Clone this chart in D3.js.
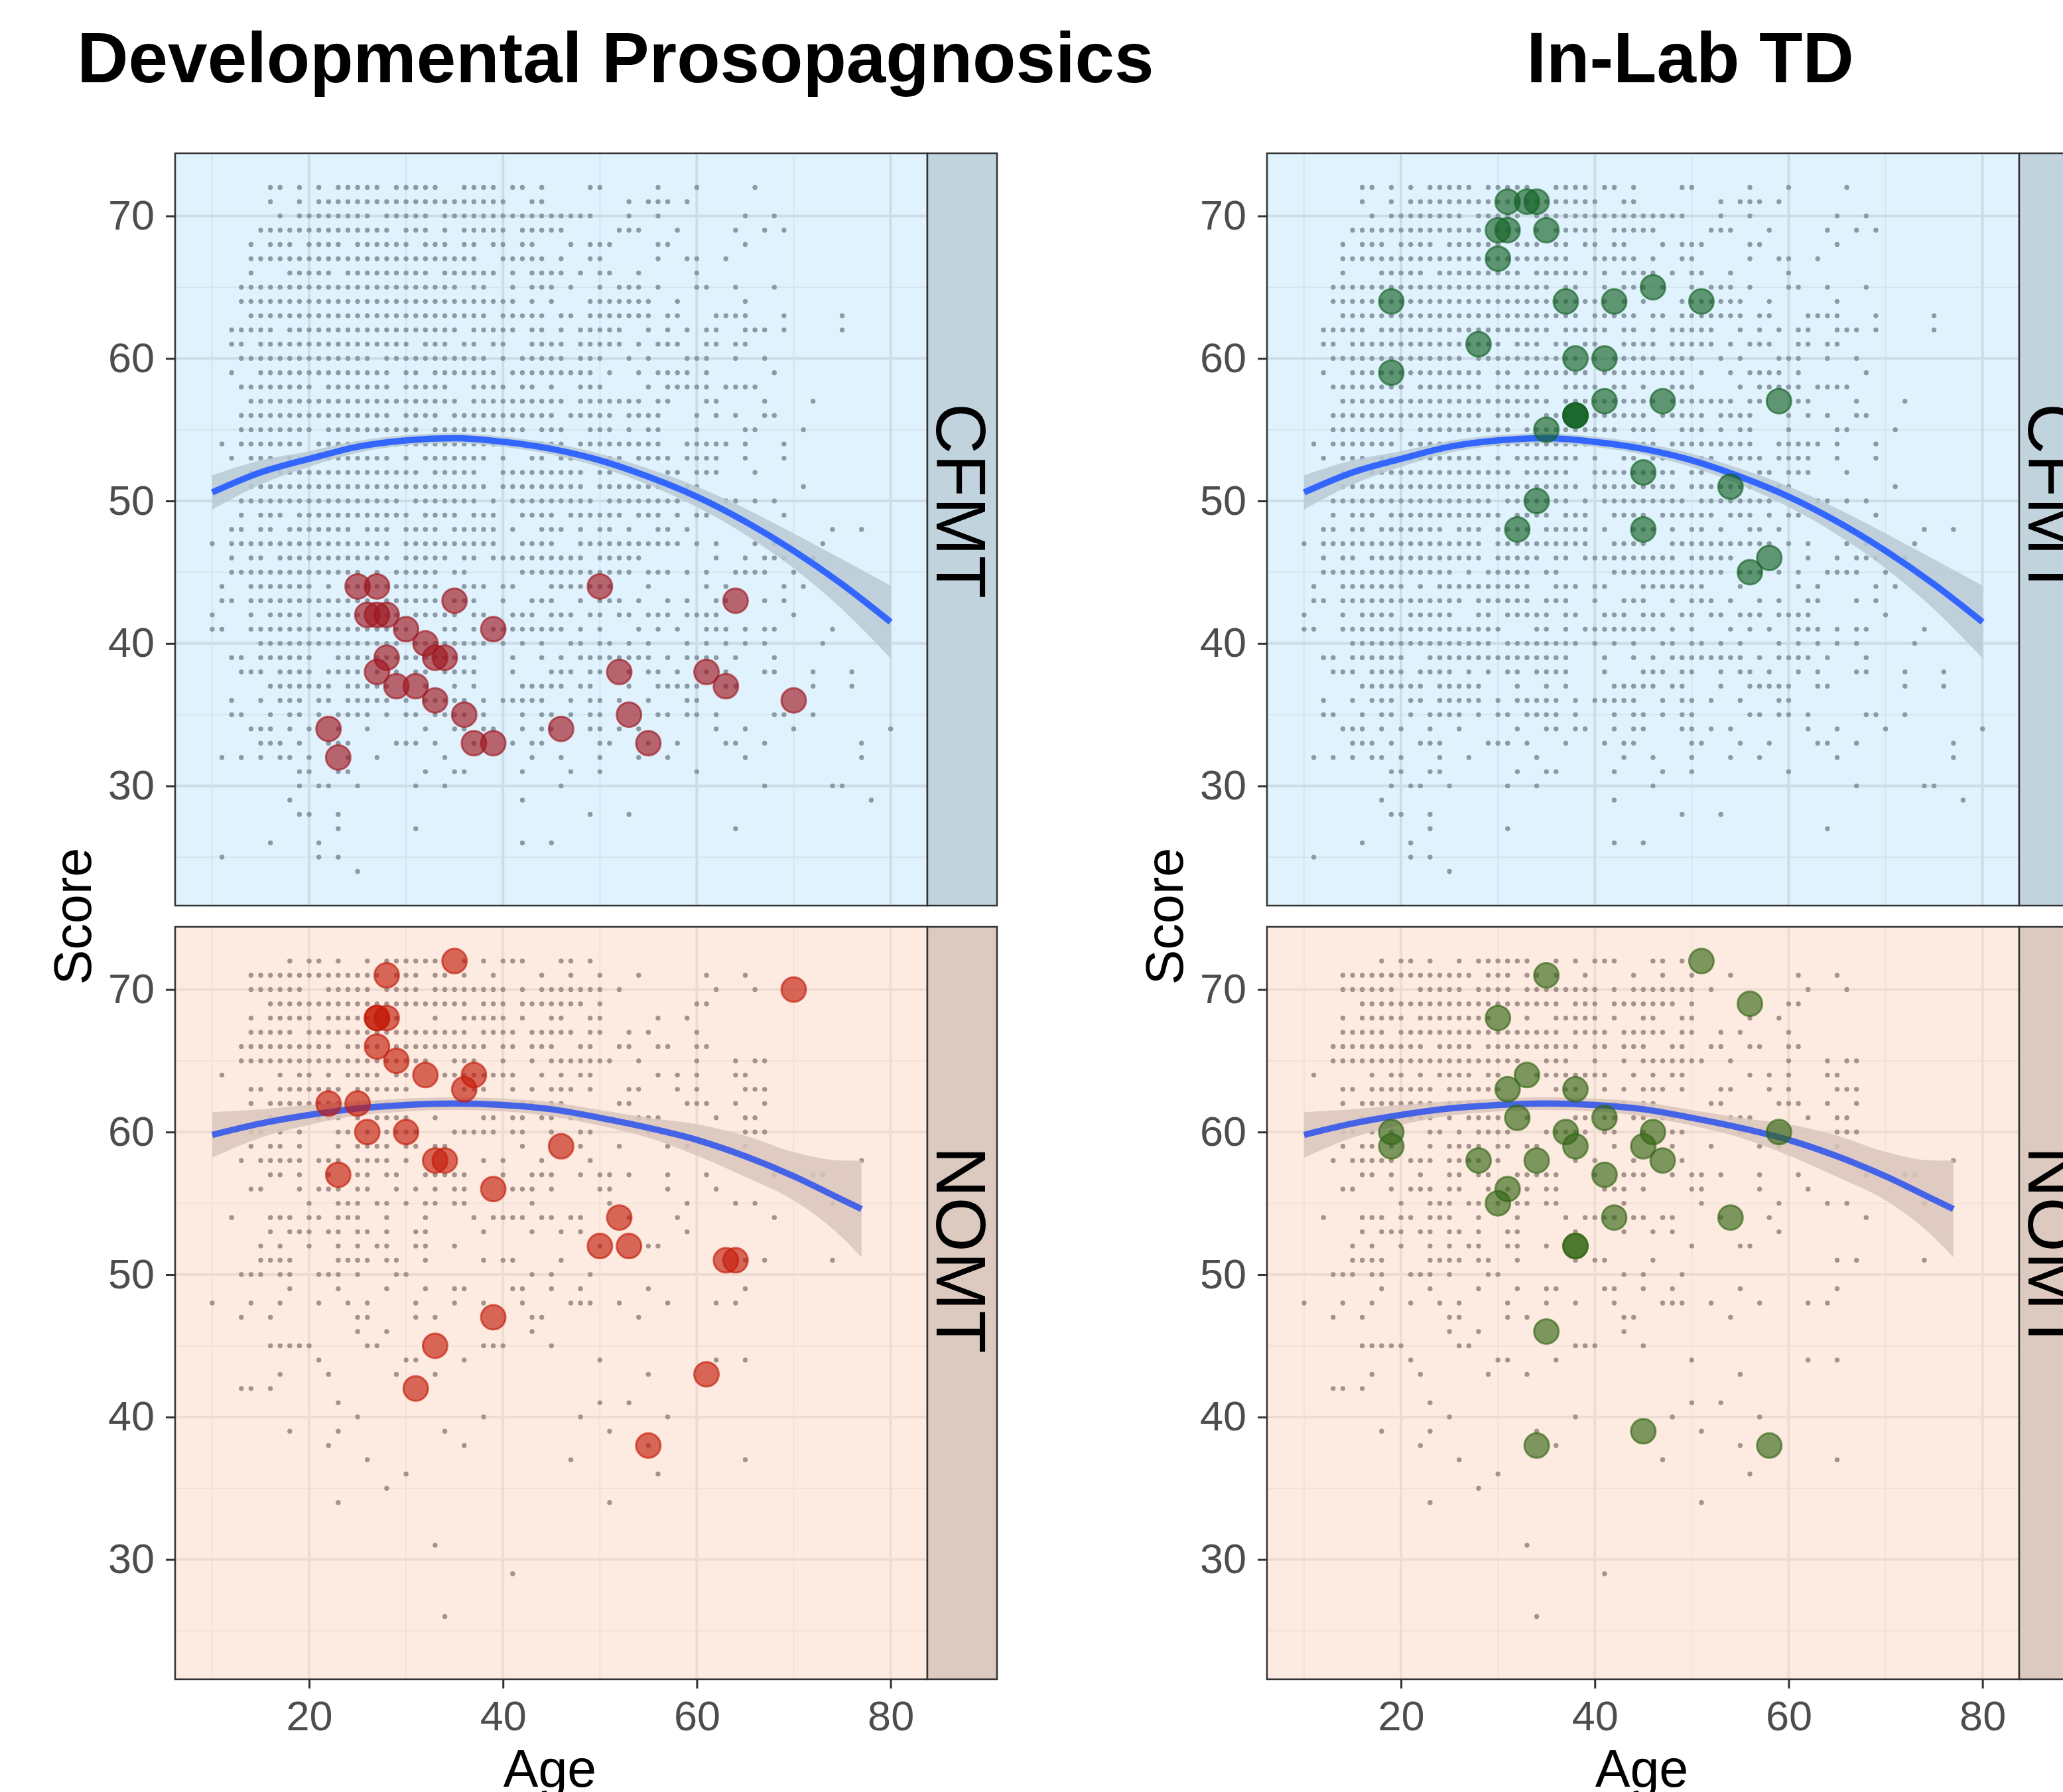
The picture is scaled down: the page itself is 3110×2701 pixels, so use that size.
<!DOCTYPE html>
<html lang="en">
<head>
<meta charset="UTF-8">
<title>Score by age, CFMT and NOMT</title>
<script src="https://cdn.jsdelivr.net/npm/d3@7"></script>
<style>
  body { margin: 0; background: #ffffff; }
  svg { display: block; font-family: "Liberation Sans", Arial, sans-serif; }
</style>
</head>
<body>
<svg id="chart" width="3110" height="2701"></svg>
<script>
// ---------- data ----------
// normative sample: [score, ages with a dot in that score row]
const cfmtNorm = [
  [72, "16 17 19 21 23 24 25 26 27 29 30 31 32 33 36 37 38 39 41 42 44 49 50 56 60 66"],
  [71, "16 19 21 22 23 24 25 26 27 28 29 30 31 32 33 34 35 36 37 38 39 40 43 44 53 55 56 57 59"],
  [70, "17 19 20 21 22 23 24 25 26 28 29 30 31 32 34 35 36 37 38 39 40 41 42 43 44 45 46 47 48 49 53 56 65 68"],
  [69, "15 16 17 18 19 20 21 22 23 24 25 26 27 28 30 31 32 34 36 37 38 39 40 42 43 44 45 46 52 53 54 58 64 67 69"],
  [68, "14 16 17 18 20 21 22 23 25 26 27 28 29 30 32 33 34 36 37 39 40 42 43 47 49 50 51 56 57 65"],
  [67, "14 15 16 17 18 19 20 21 22 23 24 25 26 27 28 29 30 31 32 33 34 35 36 37 40 41 42 43 44 46 49 50 56 59 60 63"],
  [66, "14 18 19 20 21 22 24 25 26 27 28 29 30 31 32 34 35 36 37 38 39 41 43 44 45 46 48 50 51 54 60"],
  [65, "13 14 15 16 17 18 19 20 21 22 23 24 25 26 27 28 29 30 31 32 33 34 35 37 38 41 43 44 45 47 50 52 53 54 56 60 61 64 68"],
  [64, "13 14 15 16 17 18 19 20 21 22 23 24 25 26 27 28 29 30 31 32 33 34 35 36 37 38 39 40 41 43 45 49 50 51 52 53 54 55 58 65"],
  [63, "14 15 16 17 18 19 20 21 22 23 24 25 26 27 28 29 30 31 32 33 34 35 36 37 38 40 41 42 43 44 46 47 49 50 51 52 53 54 55 57 58 62 63 64 65 69 75"],
  [62, "12 13 14 15 16 18 19 20 21 22 23 24 25 26 27 28 29 30 31 32 33 34 35 37 38 39 40 41 43 44 46 48 49 50 51 52 55 57 59 61 62 65 66 67 69 75"],
  [61, "12 13 15 16 17 18 19 20 21 22 23 24 25 26 27 28 29 30 32 33 34 36 37 39 40 43 44 45 46 48 49 50 51 52 54 56 57 58 61 62 64 65"],
  [60, "13 14 15 16 17 18 19 20 21 22 23 24 25 26 28 29 30 31 32 33 34 35 36 37 38 40 42 43 44 45 46 48 49 50 53 55 59 60 61 64 67"],
  [59, "12 15 16 17 18 19 20 21 22 23 24 25 26 27 28 30 31 33 34 35 36 37 38 39 41 42 43 44 45 46 47 48 49 51 54 56 57 58 59 61 68"],
  [58, "13 14 15 16 17 18 19 20 22 23 24 25 26 27 28 30 31 32 33 34 37 38 39 40 42 43 45 48 49 50 55 57 58 59 60 61 63 64 65 66"],
  [57, "14 15 16 17 18 19 20 21 22 23 24 25 26 27 28 29 30 31 32 33 34 35 37 38 39 40 41 42 43 44 45 46 48 49 50 51 52 53 54 56 57 61 62 67 72"],
  [56, "13 14 15 16 17 18 19 20 21 22 23 24 25 26 27 28 30 31 32 33 35 36 37 38 39 40 41 42 43 44 45 47 48 49 50 51 53 54 55 56 60 62 64 67 68"],
  [55, "13 14 15 16 17 18 19 20 22 23 24 25 26 27 28 29 30 31 33 34 35 36 37 38 39 40 41 42 44 45 46 49 50 51 53 55 56 60 65 66 71"],
  [54, "11 13 14 15 16 17 18 19 21 22 23 24 25 26 27 28 29 30 31 32 33 34 35 36 37 38 39 40 41 42 44 45 46 48 49 50 51 52 53 54 55 56 59 60 61 62 63 65 69"],
  [53, "12 14 15 16 18 19 20 21 22 23 24 25 26 27 28 30 32 33 34 35 36 37 38 40 43 44 46 47 51 52 54 55 56 57 59 60 61 62 65 69"],
  [52, "14 15 17 18 19 20 21 22 23 24 25 26 27 28 29 30 31 33 34 35 36 37 40 41 42 43 44 45 46 47 48 50 51 57 58 60 61 62 66"],
  [51, "14 15 16 17 18 19 20 21 22 23 24 25 26 27 28 29 30 31 32 33 34 35 36 37 38 40 41 42 43 44 45 46 47 48 50 51 52 53 54 55 56 59 60 71"],
  [50, "13 14 15 16 17 18 19 20 21 22 23 24 25 26 27 28 29 31 32 33 34 35 36 37 39 41 42 43 44 45 46 47 48 49 51 52 53 54 55 56 57 58 63 64 66 68"],
  [49, "13 15 16 17 19 20 21 22 23 24 25 26 27 28 29 30 32 33 34 35 37 38 39 42 43 44 45 47 48 49 50 51 52 54 55 56 58 60 61 69"],
  [48, "12 13 15 16 18 19 20 21 22 23 24 26 27 28 30 31 32 33 35 36 37 38 39 41 44 45 46 48 50 51 53 56 57 59 74 77"],
  [47, "10 12 13 14 15 16 17 18 19 20 21 22 23 24 25 26 27 28 30 31 32 33 34 35 36 37 38 39 42 43 44 45 48 49 50 51 52 53 54 55 56 57 58 60 62 66 68 73"],
  [46, "12 14 15 17 18 19 20 21 22 23 24 25 26 27 28 30 31 32 33 34 36 37 39 40 41 42 43 44 45 46 47 48 50 51 52 53 54 62 65 67 68 69 72"],
  [45, "12 13 14 15 16 17 18 19 20 21 22 23 24 25 27 29 30 31 32 33 35 36 42 43 44 45 46 47 48 49 50 51 52 53 55 56 57 59 61 64 65 66 67 70"],
  [44, "11 14 15 16 17 18 19 20 22 24 25 26 27 28 29 30 31 32 33 36 37 38 40 41 45 46 47 48 49 50 51 55 61 63 69 71"],
  [43, "11 12 14 15 16 17 18 19 20 21 22 23 24 25 26 28 29 30 31 32 33 35 36 37 40 43 44 45 48 50 51 52 54 57 59 62 63 67 69"],
  [42, "10 14 16 17 18 19 21 22 23 24 25 28 29 31 32 33 34 35 37 38 41 42 43 45 46 47 49 50 52 53 55 56 57 59 60 61 62 70"],
  [41, "10 11 14 15 16 17 18 19 20 21 22 23 24 25 26 27 28 29 30 34 35 37 39 40 41 42 43 44 45 46 48 50 54 56 58 61 62 63 65 67 68 74"],
  [40, "15 16 17 18 19 20 21 22 23 24 25 26 27 28 29 31 32 33 34 35 36 37 38 40 42 44 47 48 50 51 53 55 59 61 63 65 67 73"],
  [39, "12 13 15 16 17 18 19 20 23 24 25 26 27 28 29 30 31 32 33 34 35 36 37 41 44 46 48 49 50 51 52 53 54 55 57 59 60 61 62 64 68"],
  [38, "13 14 15 17 18 19 20 22 23 24 25 27 29 31 32 34 35 36 37 41 45 46 47 49 50 53 55 56 58 61 63 67 68 72 76"],
  [37, "16 17 18 19 20 21 22 24 25 26 27 28 32 35 37 42 43 44 45 46 48 49 53 56 57 58 59 60 63 64 72 76"],
  [36, "12 15 17 18 19 21 22 24 25 26 27 28 30 32 33 34 35 36 38 40 41 42 43 44 47 49 50 52 55 59 60"],
  [35, "12 13 16 18 19 21 23 24 25 26 28 30 31 33 34 35 36 38 42 44 45 47 49 50 56 57 59 60 62 68 69 72"],
  [34, "14 15 16 18 20 23 26 32 35 36 38 39 42 44 45 49 50 52 54 62 65 70 80"],
  [33, "15 16 17 19 22 23 24 29 30 31 33 37 41 43 44 50 51 55 58 63 64 67 77"],
  [32, "11 13 15 17 18 20 24 27 34 43 46 50 54 57 65 77"],
  [31, "19 20 23 24 32 35 36 42 47 50 60"],
  [30, "19 21 22 25 31 34 46 67 74 75"],
  [29, "18 42 78"],
  [28, "19 20 23 49 53"],
  [27, "23 31 64"],
  [26, "16 21 42 45"],
  [25, "11 21 23"],
  [24, "25"]
];

const nomtNorm = [
  [72, "18 20 21 23 26 28 29 30 31 32 33 36 38 40 41 42 46 47 49"],
  [71, "14 15 16 17 18 19 20 21 22 23 24 25 26 27 29 30 31 33 34 36 39 44 47 50 54 61 65"],
  [70, "14 15 16 17 18 19 22 23 24 25 26 28 29 30 31 33 34 35 36 37 38 39 40 42 44 45 46 47 48 49 50 52 62 66"],
  [69, "16 17 18 19 20 21 22 23 24 25 26 27 28 29 30 31 32 33 34 35 36 38 39 40 42 43 44 45 46 47 48 50 60 61"],
  [68, "14 16 17 18 19 20 22 23 24 25 26 27 28 29 33 36 37 38 39 40 42 45 46 49 50 56 59"],
  [67, "14 15 16 17 18 20 21 22 23 24 25 26 27 28 29 30 31 32 33 34 35 36 38 39 40 41 43 44 45 46 47 49 50 53 55 60"],
  [66, "13 14 15 16 17 18 19 20 21 22 24 25 26 27 29 30 31 32 33 34 35 36 37 38 40 41 43 44 45 48 49 52 53 56 57 60 61"],
  [65, "13 14 15 16 17 18 19 20 21 22 23 24 25 26 27 28 29 30 31 32 35 36 37 40 43 45 46 47 48 49 50 51 54 60 64 66 67"],
  [64, "11 17 19 20 22 24 25 26 27 29 30 34 35 36 37 38 39 40 41 44 46 48 49 56 58 60 64 65"],
  [63, "14 15 17 18 19 20 21 22 23 25 26 27 28 29 30 36 37 38 41 43 45 46 47 49 53 54 58 60 65 66 67"],
  [62, "14 16 17 18 19 20 21 22 23 25 26 27 28 30 32 34 36 37 39 40 42 43 45 46 52 53 59 60 61 64 67"],
  [61, "16 21 22 23 25 27 28 29 30 33 38 39 41 42 44 45 47 48 54 55 56 62 65 66"],
  [60, "14 15 17 19 23 24 26 28 29 30 31 35 36 37 38 39 41 42 45 48 49 55 65 66 67"],
  [59, "14 16 17 19 23 25 26 27 28 30 31 33 34 42 48 52 57 59 65"],
  [58, "13 15 16 17 18 19 21 22 23 25 26 27 28 30 38 40 44 49 77"],
  [57, "16 17 19 22 25 26 28 29 32 33 34 35 36 40 43 44 45 48 50 51 53 57 61 68 72 73"],
  [56, "14 15 19 21 22 23 25 26 29 31 33 35 36 41 42 43 45 50 51 57 62"],
  [55, "20 23 24 25 27 28 30 32 33 35 36 43 51 59 64 66 74"],
  [54, "12 16 17 18 20 21 23 24 25 28 32 37 39 40 41 42 44 45 47 48 53 58 68"],
  [53, "16 18 19 20 22 23 25 26 28 31 32 38 43 46 48 59"],
  [52, "15 17 20 23 25 27 28 31 32 35 50 55 56"],
  [51, "15 16 17 18 23 24 25 26 28 29 32 38 40 41 46 65 67 74"],
  [50, "13 14 15 17 18 21 22 23 25 29 30 43 45 49"],
  [49, "18 23 28 32 35 36 41 42 45 48 55 65"],
  [48, "10 14 17 21 24 26 31 35 38 42 47 48 49 52 57 62 64"],
  [47, "13 16 25 26 31 33 43 44 54"],
  [46, "25 28 43"],
  [45, "16 17 18 19 20 26 27 38 39 40 45"],
  [44, "21 30 31 36 50 62 65"],
  [43, "17 22 29 33 55"],
  [42, "13 14 16"],
  [41, "23 50 53"],
  [40, "25 38 48 57"],
  [39, "18 23 34 51"],
  [38, "22 36 55"],
  [37, "26 47 65"],
  [36, "30 56"],
  [35, "28"],
  [34, "23 51"],
  [31, "33"],
  [29, "41"],
  [26, "34"]
];

// highlighted groups: [age, score]
const dpCfmt = [[25,44],[27,44],[35,43],[50,44],[64,43],[26,42],[27,42],[28,42],[30,41],[39,41],
  [32,40],[33,39],[34,39],[28,39],[27,38],[52,38],[61,38],[29,37],[31,37],[63,37],
  [33,36],[70,36],[36,35],[53,35],[22,34],[46,34],[37,33],[39,33],[55,33],[23,32]];
const dpNomt = [[35,72],[28,71],[70,70],[27,68],[27,68],[28,68],[27,66],[29,65],[32,64],[37,64],
  [36,63],[22,62],[25,62],[26,60],[30,60],[46,59],[33,58],[34,58],[23,57],[39,56],
  [52,54],[50,52],[53,52],[63,51],[64,51],[39,47],[33,45],[31,42],[61,43],[55,38]];
const tdCfmt = [[31,71],[33,71],[34,71],[30,69],[31,69],[35,69],[30,67],[46,65],[19,64],[37,64],
  [42,64],[51,64],[28,61],[38,60],[41,60],[19,59],[41,57],[47,57],[59,57],[38,56],
  [38,56],[38,56],[35,55],[45,52],[54,51],[34,50],[32,48],[45,48],[58,46],[56,45]];
const tdNomt = [[51,72],[35,71],[56,69],[30,68],[33,64],[31,63],[38,63],[32,61],[41,61],[19,60],
  [19,59],[37,60],[46,60],[59,60],[38,59],[45,59],[28,58],[34,58],[47,58],[41,57],
  [31,56],[30,55],[42,54],[54,54],[38,52],[38,52],[35,46],[45,39],[34,38],[58,38]];

// quadratic smooth with its confidence band
const cfmtFitAge = [10,15,20,25,30,35,40,45,50,55,60,65,70,75,80];
const cfmtFit = [50.6,52.0,52.95,53.8,54.25,54.4,54.15,53.65,52.85,51.7,50.3,48.55,46.5,44.15,41.5];
const cfmtLo  = [49.4,51.15,52.4,53.38,53.89,54.05,53.79,53.25,52.38,51.13,49.58,47.63,45.28,42.4,38.95];
const cfmtHi  = [51.8,52.85,53.5,54.22,54.61,54.75,54.51,54.05,53.32,52.27,51.02,49.47,47.72,45.9,44.05];

const nomtFitAge = [10,15,20,25,30,35,40,45,50,55,60,65,70,75,77];
const nomtFit = [59.8,60.6,61.2,61.65,61.9,62.0,61.9,61.6,61.0,60.3,59.45,58.3,56.9,55.25,54.6];
const nomtLo  = [58.2,59.6,60.5,61.15,61.45,61.55,61.45,61.1,60.45,59.6,58.35,56.85,55.2,52.6,51.2];
const nomtHi  = [61.4,61.6,61.9,62.15,62.35,62.45,62.35,62.1,61.55,61.0,60.55,59.75,58.6,58.0,58.0];

const columnTitles = ["Developmental Prosopagnosics", "In-Lab TD"];
const facetNames = ["CFMT", "NOMT"];
const xTicks = [20, 40, 60, 80];
const yTicks = [30, 40, 50, 60, 70];

// ---------- layout ----------
const svg = d3.select("#chart");
const panelW = 1134, stripW = 105;
const xDomain = [6.17, 83.79], yDomain = [21.6, 74.4];

const columns = [
  {title: columnTitles[0], titleX: 928, left: 264, sets: [dpCfmt, dpNomt],
   colors: ["#9E1620", "#C41B0A"]},
  {title: columnTitles[1], titleX: 2548, left: 1910, sets: [tdCfmt, tdNomt],
   colors: ["#156326", "#346615"]}
];

const facets = [
  {name: facetNames[0], top: 231, bottom: 1365, norm: cfmtNorm, textY: 755,
   ages: cfmtFitAge, fit: cfmtFit, lo: cfmtLo, hi: cfmtHi,
   bg: "#E0F2FD", strip: "#C1D4DE", major: "#CCDDE8", minor: "#D4E5F0",
   dot: "#8A9BA6", band: "#B8CAD5", line: "#3366FF"},
  {name: facetNames[1], top: 1397, bottom: 2531, norm: nomtNorm, textY: 1884,
   ages: nomtFitAge, fit: nomtFit, lo: nomtLo, hi: nomtHi,
   bg: "#FDEBE1", strip: "#DCC9BF", major: "#EEDCD2", minor: "#F3E1D7",
   dot: "#A5928A", band: "#D9C5BB", line: "#4563E6"}
];

function rowsToPoints(rows) {
  return rows.flatMap(([score, ages]) =>
    ages.split(" ").map(a => ({age: +a, score: score})));
}

columns.forEach((col, ci) => {
  const x = d3.scaleLinear().domain(xDomain).range([col.left, col.left + panelW]);

  svg.append("text")
    .attr("x", col.titleX).attr("y", 124)
    .attr("text-anchor", "middle")
    .attr("font-size", 107).attr("font-weight", "bold")
    .attr("fill", "#000")
    .text(col.title);

  facets.forEach((f, fi) => {
    const y = d3.scaleLinear().domain(yDomain).range([f.bottom, f.top]);
    const g = svg.append("g");

    // panel background + grid
    g.append("rect")
      .attr("x", col.left).attr("y", f.top)
      .attr("width", panelW).attr("height", f.bottom - f.top)
      .attr("fill", f.bg);

    [10, 30, 50, 70].forEach(v => g.append("line")
      .attr("x1", x(v)).attr("x2", x(v)).attr("y1", f.top).attr("y2", f.bottom)
      .attr("stroke", f.minor).attr("stroke-width", 2));
    [25, 35, 45, 55, 65].forEach(v => g.append("line")
      .attr("x1", col.left).attr("x2", col.left + panelW).attr("y1", y(v)).attr("y2", y(v))
      .attr("stroke", f.minor).attr("stroke-width", 2));
    xTicks.forEach(v => g.append("line")
      .attr("x1", x(v)).attr("x2", x(v)).attr("y1", f.top).attr("y2", f.bottom)
      .attr("stroke", f.major).attr("stroke-width", 4));
    yTicks.forEach(v => g.append("line")
      .attr("x1", col.left).attr("x2", col.left + panelW).attr("y1", y(v)).attr("y2", y(v))
      .attr("stroke", f.major).attr("stroke-width", 4));

    // normative cloud
    g.append("g").selectAll("circle")
      .data(rowsToPoints(f.norm))
      .join("circle")
      .attr("cx", d => x(d.age)).attr("cy", d => y(d.score))
      .attr("r", 3.7).attr("fill", f.dot);

    // smooth band and line
    const band = f.ages.map((a, i) => ({age: a, lo: f.lo[i], hi: f.hi[i], fit: f.fit[i]}));
    g.append("path")
      .attr("d", d3.area().curve(d3.curveMonotoneX)
        .x(d => x(d.age)).y0(d => y(d.lo)).y1(d => y(d.hi))(band))
      .attr("fill", f.band).attr("opacity", 0.85);
    g.append("path")
      .attr("d", d3.line().curve(d3.curveMonotoneX)
        .x(d => x(d.age)).y(d => y(d.fit))(band))
      .attr("fill", "none").attr("stroke", f.line).attr("stroke-width", 9.5);

    // group points
    g.append("g").selectAll("circle")
      .data(col.sets[fi])
      .join("circle")
      .attr("cx", d => x(d[0])).attr("cy", d => y(d[1]))
      .attr("r", 18.5)
      .attr("fill", col.colors[fi]).attr("fill-opacity", 0.64)
      .attr("stroke", col.colors[fi]).attr("stroke-opacity", 0.64)
      .attr("stroke-width", 3);

    // panel border
    g.append("rect")
      .attr("x", col.left).attr("y", f.top)
      .attr("width", panelW).attr("height", f.bottom - f.top)
      .attr("fill", "none").attr("stroke", "#333333").attr("stroke-width", 2.5);

    // strip
    g.append("rect")
      .attr("x", col.left + panelW).attr("y", f.top)
      .attr("width", stripW).attr("height", f.bottom - f.top)
      .attr("fill", f.strip).attr("stroke", "#333333").attr("stroke-width", 2.5);
    g.append("text")
      .attr("transform", `translate(${col.left + panelW + 14},${f.textY}) rotate(90)`)
      .attr("text-anchor", "middle")
      .attr("font-size", 106).attr("fill", "#000")
      .text(f.name);

    // y axis
    const yAxis = g.append("g")
      .attr("transform", `translate(${col.left},0)`)
      .call(d3.axisLeft(y).tickValues(yTicks).tickSize(14).tickPadding(17));
    yAxis.select(".domain").remove();
    yAxis.selectAll(".tick line").attr("stroke", "#333333").attr("stroke-width", 3);
    yAxis.selectAll(".tick text")
      .attr("font-size", 63).attr("fill", "#4D4D4D")
      .attr("font-family", "Liberation Sans, Arial, sans-serif");

    // x axis on the lower panel only
    if (fi === facets.length - 1) {
      const xAxis = g.append("g")
        .attr("transform", `translate(0,${f.bottom})`)
        .call(d3.axisBottom(x).tickValues(xTicks).tickSize(14).tickPadding(18));
      xAxis.select(".domain").remove();
      xAxis.selectAll(".tick line").attr("stroke", "#333333").attr("stroke-width", 3);
      xAxis.selectAll(".tick text")
        .attr("font-size", 63).attr("fill", "#4D4D4D")
        .attr("font-family", "Liberation Sans, Arial, sans-serif");
    }
  });

  // axis titles
  svg.append("text")
    .attr("transform", `translate(${col.left - 127},1381) rotate(-90)`)
    .attr("text-anchor", "middle")
    .attr("font-size", 79).attr("fill", "#000")
    .text("Score");
  svg.append("text")
    .attr("x", col.left + 565).attr("y", 2693)
    .attr("text-anchor", "middle")
    .attr("font-size", 79).attr("fill", "#000")
    .text("Age");
});
</script>
</body>
</html>
